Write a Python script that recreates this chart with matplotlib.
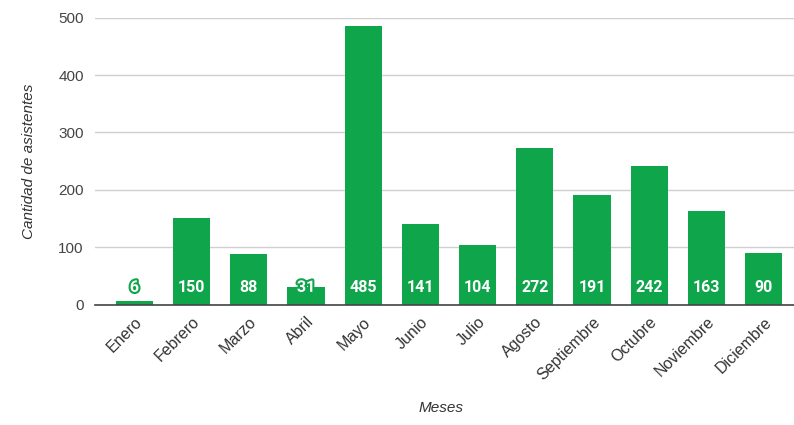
import matplotlib
matplotlib.use('Agg')
import matplotlib.pyplot as plt
import matplotlib.patheffects as pe
import matplotlib.transforms as mtransforms

plt.rcParams['font.family'] = ['Liberation Sans', 'DejaVu Sans']

meses = ['Enero', 'Febrero', 'Marzo', 'Abril', 'Mayo', 'Junio', 'Julio',
         'Agosto', 'Septiembre', 'Octubre', 'Noviembre', 'Diciembre']
asistentes = [6, 150, 88, 31, 485, 141, 104, 272, 191, 242, 163, 90]

verde = '#0FA64B'

fig = plt.figure(figsize=(7.94, 4.25), dpi=100)
ax = fig.add_axes([0.1196, 0.2835, 0.8804, 0.675])

x = list(range(len(meses)))
bars = ax.bar(x, asistentes, width=0.65, color=verde, zorder=3)

# etiquetas de valor dentro de la barra (con borde verde si la barra es baja)
for i, bar in enumerate(bars):
    t = ax.text(bar.get_x() + bar.get_width() / 2, 30, str(asistentes[i]),
                ha='center', va='center', color='white', fontsize=11.5,
                fontweight='bold', family=['Roboto', 'DejaVu Sans'], zorder=4)
    if asistentes[i] < 45:
        t.set_path_effects([pe.withStroke(linewidth=3, foreground=verde)])

ax.set_xlim(-0.69, 11.53)
ax.set_ylim(0, 500)
ax.set_yticks([0, 100, 200, 300, 400, 500])
ax.set_xticks(x)
ax.set_xticklabels(meses, rotation=45, ha='right', rotation_mode='anchor',
                   fontsize=11.5, color='#333333')
offset = mtransforms.ScaledTranslation(6 / 100, 0, fig.dpi_scale_trans)
for lbl in ax.get_xticklabels():
    lbl.set_transform(lbl.get_transform() + offset)
ax.tick_params(axis='y', labelsize=11, colors='#444444', length=0, pad=8)
ax.tick_params(axis='x', length=0, pad=7)

ax.grid(axis='y', color='#d0d0d0', linewidth=1, zorder=0)
for s in ['top', 'right', 'left']:
    ax.spines[s].set_visible(False)
ax.spines['bottom'].set_color('#444444')
ax.spines['bottom'].set_linewidth(1.2)
ax.spines['bottom'].set_zorder(5)

ax.set_ylabel('Cantidad de asistentes', fontstyle='italic', fontsize=11,
              color='#333333', labelpad=16)
fig.text(0.555, 0.03, 'Meses', fontstyle='italic', fontsize=11,
         color='#333333', ha='center')

fig.savefig('out.png', dpi=100)
